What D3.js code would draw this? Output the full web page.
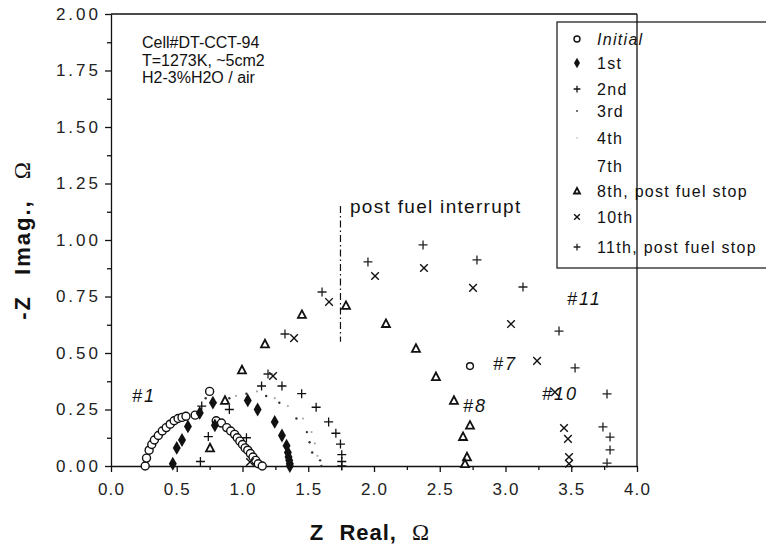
<!DOCTYPE html>
<html><head><meta charset="utf-8">
<script src="https://cdn.jsdelivr.net/npm/d3@7"></script>
<style>body{margin:0;background:#fff}svg{display:block}</style>
</head><body>
<svg id="chart" width="766" height="549"></svg>
<script>
// ---------- data ----------
const xTickValues = [0,0.5,1.0,1.5,2.0,2.5,3.0,3.5,4.0];
const xTickLabels = ["0.0","0.5","1.0","1.5","2.0","2.5","3.0","3.5","4.0"];
const yTickValues = [0,0.25,0.5,0.75,1.0,1.25,1.5,1.75,2.0];
const yTickLabels = ["0.00","0.25","0.50","0.75","1.00","1.25","1.50","1.75","2.00"];

const initialX = [0.26,0.27,0.29,0.31,0.33,0.36,0.39,0.42,0.45,0.48,0.51,0.54,0.57,0.64,0.75,0.80,0.84,0.88,0.91,0.94,0.96,0.98,1.00,1.02,1.04,1.06,1.08,1.10,1.12,1.15];
const initialY = [0.00,0.035,0.07,0.095,0.115,0.135,0.155,0.17,0.185,0.20,0.21,0.215,0.22,0.225,0.33,0.20,0.19,0.17,0.155,0.14,0.125,0.11,0.095,0.08,0.07,0.055,0.04,0.025,0.01,0.00];

const firstX = [0.47,0.50,0.54,0.585,0.675,0.775,0.79,1.04,1.115,1.245,1.30,1.335,1.345,1.35,1.355,1.36,1.36];
const firstY = [0.01,0.08,0.115,0.175,0.235,0.28,0.18,0.29,0.25,0.195,0.135,0.09,0.06,0.04,0.025,0.01,0.0];

const secondX = [0.68,0.74,0.69,0.90,1.03,1.145,1.30,1.45,1.56,1.655,1.71,1.745,1.755,1.755,1.755];
const secondY = [0.02,0.13,0.265,0.25,0.125,0.354,0.354,0.32,0.26,0.195,0.145,0.097,0.05,0.02,0.0];

const thirdX = [0.72,0.90,1.03,1.18,1.28,1.41,1.49,1.51,1.53,1.59,1.60];
const thirdY = [0.30,0.30,0.32,0.31,0.28,0.21,0.15,0.105,0.06,0.025,0.0];

const fourthX = [0.80,0.95,1.11,1.245,1.345,1.46,1.525,1.55,1.57];
const fourthY = [0.28,0.31,0.33,0.30,0.265,0.21,0.15,0.10,0.045];

const eighthX = [0.753,0.867,0.996,1.171,1.452,1.787,2.091,2.319,2.471,2.608,2.730,2.677,2.707,2.692];
const eighthY = [0.08,0.29,0.425,0.54,0.67,0.71,0.63,0.52,0.395,0.29,0.18,0.13,0.04,0.01];

const tenthX = [1.057,1.232,1.392,1.658,2.008,2.380,2.753,3.042,3.240,3.376,3.445,3.475,3.483,3.483];
const tenthY = [0.018,0.398,0.566,0.726,0.841,0.876,0.788,0.628,0.465,0.327,0.168,0.12,0.04,0.01];

const eleventhX = [1.194,1.323,1.605,1.954,2.373,2.783,3.133,3.407,3.529,3.772,3.741,3.795,3.795,3.772];
const eleventhY = [0.407,0.584,0.770,0.903,0.978,0.912,0.792,0.597,0.434,0.319,0.173,0.128,0.071,0.013];

const legendLabels = ["Initial","1st","2nd","3rd","4th","7th","8th, post fuel stop","10th","11th, post fuel stop"];
const legendMarkers = ["circle","filled","plus","dot3","dot4","none","triangle","x","plus11"];

const curveLabels = ["#1","#8","#7","#10","#11"];
const curveLabelX = [0.16,2.677,2.905,3.278,3.468];
const curveLabelY = [0.283,0.239,0.425,0.292,0.712];

const infoLines = ["Cell#DT-CCT-94","T=1273K, ~5cm2","H2-3%H2O / air"];

// ---------- drawing ----------
const svg = d3.select("#chart");
const W=766,H=549;
svg.append("rect").attr("width",W).attr("height",H).attr("fill","#fff");

const x = d3.scaleLinear().domain([0,4]).range([111,637]);
const y = d3.scaleLinear().domain([0,2]).range([466,14]);
const FONT = "'Liberation Sans', Arial, Helvetica, sans-serif";

// frame (top)
svg.append("line").attr("x1",x(0)).attr("x2",x(4)).attr("y1",y(2)).attr("y2",y(2)).attr("stroke","#111").attr("stroke-width",1.3);

// x axis
const xMinor = d3.range(0.25,4,0.5);
const gx = svg.append("g").attr("transform",`translate(0,${y(0)})`);
gx.call(d3.axisBottom(x).tickValues(xTickValues).tickSize(6).tickSizeOuter(0).tickFormat((d,i)=>xTickLabels[i]));
const gxm = svg.append("g").attr("transform",`translate(0,${y(0)})`);
gxm.call(d3.axisBottom(x).tickValues(xMinor).tickSize(4).tickSizeOuter(0).tickFormat(""));
gxm.select(".domain").remove();
[gx,gxm].forEach(g=>{g.selectAll("path,line").attr("stroke","#111").attr("stroke-width",1.3);});
gx.selectAll("text").attr("font-family",FONT).attr("font-size",17).attr("fill","#222").attr("letter-spacing","1.2px").attr("dy","1.2em");

// y axis
const yMinor = d3.range(0.125,2,0.25);
const gy = svg.append("g").attr("transform",`translate(${x(0)},0)`);
gy.call(d3.axisLeft(y).tickValues(yTickValues).tickSize(6).tickSizeOuter(0).tickFormat((d,i)=>yTickLabels[i]));
const gym = svg.append("g").attr("transform",`translate(${x(0)},0)`);
gym.call(d3.axisLeft(y).tickValues(yMinor).tickSize(4).tickSizeOuter(0).tickFormat(""));
gym.select(".domain").remove();
[gy,gym].forEach(g=>{g.selectAll("path,line").attr("stroke","#111").attr("stroke-width",1.3);});
gy.selectAll("text").attr("font-family",FONT).attr("font-size",17).attr("fill","#222").attr("letter-spacing","3px").attr("x",-10);

// axis titles
const xt = svg.append("text").attr("x",370).attr("y",540).attr("text-anchor","middle")
  .attr("font-family",FONT).attr("font-size",22).attr("font-weight","bold").attr("fill","#111")
  .attr("word-spacing","8px").attr("letter-spacing","1px");
xt.append("tspan").text("Z Real, ");
xt.append("tspan").attr("font-family","'Liberation Serif', serif").attr("font-weight","normal").attr("font-size",23).text("Ω");

const yt = svg.append("text").attr("transform","translate(30,240) rotate(-90)").attr("text-anchor","middle")
  .attr("font-family",FONT).attr("font-size",22).attr("font-weight","bold").attr("fill","#111")
  .attr("word-spacing","12px").attr("letter-spacing","2px");
yt.append("tspan").text("-Z Imag., ");
yt.append("tspan").attr("font-family","'Liberation Serif', serif").attr("font-weight","normal").attr("font-size",23).text("Ω");

// info text
svg.append("g").selectAll("text").data(infoLines).join("text")
  .attr("x",142).attr("y",(d,i)=>48+i*17.5)
  .attr("font-family",FONT).attr("font-size",16).attr("fill","#111").text(d=>d);

// "post fuel interrupt" annotation
svg.append("line").attr("x1",x(1.745)).attr("x2",x(1.745)).attr("y1",y(1.15)).attr("y2",y(0.55))
  .attr("stroke","#111").attr("stroke-width",1.2).attr("stroke-dasharray","7,3,1.5,3");
svg.append("text").attr("x",350).attr("y",213).attr("font-family",FONT).attr("font-size",19)
  .attr("fill","#111").attr("letter-spacing","1.3px").text("post fuel interrupt");

// marker drawing
function marker(g, type, cx, cy, scale=1){
  const s=scale;
  if(type==="circle"){
    g.append("circle").attr("cx",cx).attr("cy",cy).attr("r",4*s).attr("fill","#fff").attr("stroke","#111").attr("stroke-width",1.4);
  } else if(type==="filled"){
    g.append("path").attr("transform",`translate(${cx},${cy})`).attr("d",d3.symbol(d3.symbolDiamond, 55*s*s)()).attr("fill","#111");
  } else if(type==="plus"||type==="plus11"){
    const a=4.5*s;
    g.append("path").attr("d",`M${cx-a},${cy}H${cx+a}M${cx},${cy-a}V${cy+a}`).attr("stroke",type==="plus"?"#111":"#222").attr("stroke-width",1.3).attr("fill","none");
  } else if(type==="dot3"){
    g.append("circle").attr("cx",cx).attr("cy",cy).attr("r",1.2*s).attr("fill","#333");
  } else if(type==="dot4"){
    g.append("circle").attr("cx",cx).attr("cy",cy).attr("r",1.1*s).attr("fill","#aaa");
  } else if(type==="triangle"){
    const h=4.2*s;
    g.append("path").attr("d",`M${cx},${cy-h}L${cx+h*0.95},${cy+h*0.8}L${cx-h*0.95},${cy+h*0.8}Z`).attr("fill","#fff").attr("stroke","#111").attr("stroke-width",1.8);
  } else if(type==="x"){
    const a=3.8*s;
    g.append("path").attr("d",`M${cx-a},${cy-a}L${cx+a},${cy+a}M${cx-a},${cy+a}L${cx+a},${cy-a}`).attr("stroke","#111").attr("stroke-width",1.4);
  }
}

const series = [
  {xs:fourthX, ys:fourthY, m:"dot4"},
  {xs:thirdX, ys:thirdY, m:"dot3"},
  {xs:initialX, ys:initialY, m:"circle"},
  {xs:firstX, ys:firstY, m:"filled"},
  {xs:secondX, ys:secondY, m:"plus"},
  {xs:eighthX, ys:eighthY, m:"triangle"},
  {xs:tenthX, ys:tenthY, m:"x"},
  {xs:eleventhX, ys:eleventhY, m:"plus11"}
];
const gp = svg.append("g");
series.forEach(s=>{
  s.xs.forEach((v,i)=>marker(gp, s.m, x(v), y(s.ys[i])));
});

// curve labels
svg.append("g").selectAll("text").data(curveLabels).join("text")
  .attr("x",(d,i)=>x(curveLabelX[i])).attr("y",(d,i)=>y(curveLabelY[i]))
  .attr("font-family",FONT).attr("font-style","italic").attr("font-size",18).attr("letter-spacing","2px")
  .attr("fill","#111").text(d=>d);
// small circle marker beside #7
marker(svg.append("g"),"circle",x(2.73),y(0.442),0.85);

// legend
const lg = svg.append("g");
lg.append("rect").attr("x",557).attr("y",22).attr("width",280).attr("height",246)
  .attr("fill","#fff").attr("stroke","#111").attr("stroke-width",1.2);
const legY = [39,63,89,111,138,166,191,217,247];
legendLabels.forEach((t,i)=>{
  marker(lg, legendMarkers[i], 577, legY[i], 0.75);
  lg.append("text").attr("x",597).attr("y",legY[i]+6).attr("font-family",FONT).attr("font-size",16)
    .attr("font-style", i===0?"italic":"normal").attr("letter-spacing","1.3px").attr("fill","#111").text(t);
});
// right frame line (drawn over legend)
svg.append("line").attr("x1",x(4)).attr("x2",x(4)).attr("y1",y(2)).attr("y2",y(0)).attr("stroke","#111").attr("stroke-width",1.3);
</script>
</body></html>
